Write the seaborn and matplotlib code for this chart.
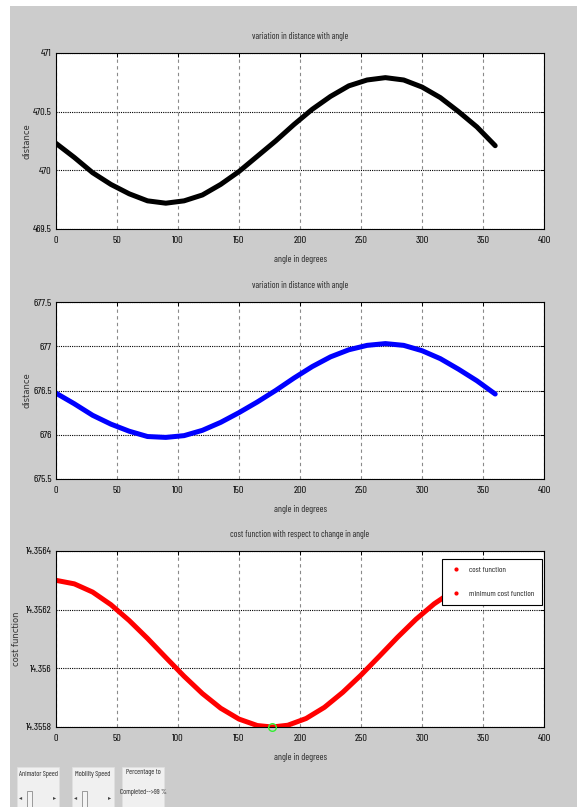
import matplotlib
matplotlib.use("Agg")
import matplotlib.pyplot as plt
from matplotlib.lines import Line2D
from matplotlib.patches import Rectangle
import seaborn as sns

# values
angle = [0, 15, 30, 45, 60, 75, 90, 105, 120, 135, 150, 165, 180,
         195, 210, 225, 240, 255, 270, 285, 300, 315, 330, 345, 360]
dist1 = [470.23, 470.11, 469.98, 469.88, 469.80, 469.74, 469.72, 469.74, 469.79,
         469.88, 469.99, 470.12, 470.25, 470.39, 470.52, 470.63, 470.72, 470.77,
         470.79, 470.77, 470.71, 470.62, 470.50, 470.37, 470.21]
dist2 = [676.47, 676.35, 676.22, 676.12, 676.04, 675.98, 675.97, 675.99, 676.05,
         676.14, 676.25, 676.37, 676.50, 676.64, 676.77, 676.88, 676.96, 677.01,
         677.03, 677.01, 676.95, 676.86, 676.74, 676.61, 676.46]

cost_angle = [0, 15, 30, 45, 60, 75, 90, 105, 120, 135, 150, 165, 177,
              190, 205, 220, 235, 250, 265, 280, 295, 310, 325, 340, 360]
cost = [14.356300, 14.356288, 14.356260, 14.356217, 14.356163, 14.356102,
        14.356037, 14.355973, 14.355914, 14.355864, 14.355827, 14.355805,
        14.355800, 14.355806, 14.355829, 14.355867, 14.355918, 14.355977,
        14.356041, 14.356106, 14.356167, 14.356220, 14.356262, 14.356289,
        14.356300]
min_angle = [177]
min_cost = [14.3558]

x_ticks = [0, 50, 100, 150, 200, 250, 300, 350, 400]
y1_ticks = [469.5, 470, 470.5, 471]
y1_labels = ["469.5", "470", "470.5", "471"]
y2_ticks = [675.5, 676, 676.5, 677, 677.5]
y2_labels = ["675.5", "676", "676.5", "677", "677.5"]
y3_ticks = [14.3558, 14.356, 14.3562, 14.3564]
y3_labels = ["14.3558", "14.356", "14.3562", "14.3564"]

sns.set_theme(style="white")
plt.rcParams['font.family'] = ['Barlow Condensed', 'DejaVu Sans']

W, H = 579, 807
fig = plt.figure(figsize=(W / 100, H / 100), dpi=100, facecolor='white')
fig.add_artist(Rectangle((10 / W, 0), 567 / W, 1 - 6 / H, transform=fig.transFigure,
                         facecolor='#cccccc', edgecolor='none', zorder=-10))


def style_axes(ax, yticks, ylabels, title, ylabel, ylabel_x):
    ax.set_facecolor('white')
    ax.set_xlim(0, 400)
    ax.set_xticks(x_ticks)
    ax.set_xticklabels([str(t) for t in x_ticks])
    ax.set_ylim(yticks[0], yticks[-1])
    ax.set_yticks(yticks)
    ax.set_yticklabels(ylabels)
    ax.xaxis.grid(True, linestyle=(0, (3, 3)), color='#8a8a8a', linewidth=0.8)
    ax.yaxis.grid(True, linestyle=(0, (1, 1)), color='black', linewidth=0.8)
    ax.set_axisbelow(True)
    ax.tick_params(direction='in', length=3, width=0.7, top=True, right=True,
                   labelsize=7.5, colors='black')
    ax.tick_params(axis='x', pad=5)
    ax.tick_params(axis='y', pad=3)
    for s in ax.spines.values():
        s.set_visible(True)
        s.set_color('black')
        s.set_linewidth(0.8)
    ax.set_title(title, fontsize=6.5, pad=10)
    ax.set_xlabel('angle in degrees', fontsize=6.8, labelpad=7)
    ax.set_ylabel(ylabel, fontsize=6, family=['DejaVu Sans'], color='#333333')
    ax.yaxis.set_label_coords((ylabel_x - 56) / 488, 0.5)


ax1 = fig.add_axes([56 / W, 1 - 229 / H, 488 / W, 176 / H])
sns.lineplot(x=angle, y=dist1, ax=ax1, color='black', linewidth=3.6, sort=False)
style_axes(ax1, y1_ticks, y1_labels, 'variation in distance with angle', 'distance', 31)

ax2 = fig.add_axes([56 / W, 1 - 479 / H, 488 / W, 177 / H])
sns.lineplot(x=angle, y=dist2, ax=ax2, color='#0000ff', linewidth=3.6, sort=False)
style_axes(ax2, y2_ticks, y2_labels, 'variation in distance with angle', 'distance', 31)

ax3 = fig.add_axes([56 / W, 1 - 727 / H, 488 / W, 176 / H])
sns.lineplot(x=cost_angle, y=cost, ax=ax3, color='#ff0000', linewidth=3.6, sort=False)
ax3.plot(min_angle, min_cost, marker='o', markersize=5.5, markerfacecolor='none',
         markeredgecolor='#33ee33', markeredgewidth=1, linestyle='none', zorder=6,
         clip_on=False)
style_axes(ax3, y3_ticks, y3_labels, 'cost function with respect to change in angle',
           'cost function', 21)

handles = [Line2D([], [], marker='.', linestyle='none', color='#ff0000', markersize=4),
           Line2D([], [], marker='.', linestyle='none', color='#ff0000', markersize=4)]
leg = ax3.legend(handles, ['cost function', 'minimum cost function'], loc='upper right',
                 bbox_to_anchor=(0.996, 0.955), fontsize=6, frameon=True, fancybox=False,
                 framealpha=1, edgecolor='black', borderpad=0.9, labelspacing=1.9,
                 handletextpad=0.8, handlelength=1.6, borderaxespad=0)
leg.get_frame().set_linewidth(0.8)
leg.set_zorder(10)

# control panel boxes at the bottom
boxes = [(17, 'Animator Speed'), (72, 'Mobility Speed')]
for x0, label in boxes:
    fig.add_artist(Rectangle((x0 / W, 0), 42 / W, 40 / H, transform=fig.transFigure,
                             facecolor='#f0f0f0', edgecolor='#e0e0e0', linewidth=0.5))
    fig.text((x0 + 21) / W, 1 - 774 / H, label, fontsize=5.2, ha='center', va='center')
    fig.text((x0 + 4) / W, 1 - 798 / H, '\u25c2', fontsize=4.5, ha='center', va='center',
             family=['DejaVu Sans'], color='#444444')
    fig.text((x0 + 38) / W, 1 - 798 / H, '\u25b8', fontsize=4.5, ha='center', va='center',
             family=['DejaVu Sans'], color='#444444')
    fig.add_artist(Rectangle(((x0 + 10) / W, 0), 5 / W, 16 / H, transform=fig.transFigure,
                             facecolor='#f4f4f4', edgecolor='#777777', linewidth=0.5))

fig.add_artist(Rectangle((122 / W, 0), 42 / W, 40 / H, transform=fig.transFigure,
                         facecolor='#f0f0f0', edgecolor='#e0e0e0', linewidth=0.5))
fig.text(143 / W, 1 - 773 / H, 'Percentage to', fontsize=5.2, ha='center', va='center')
fig.text(143 / W, 1 - 792 / H, 'Completed-->99 %', fontsize=5.2, ha='center', va='center')

fig.savefig('out.png', dpi=100, facecolor=fig.get_facecolor())
